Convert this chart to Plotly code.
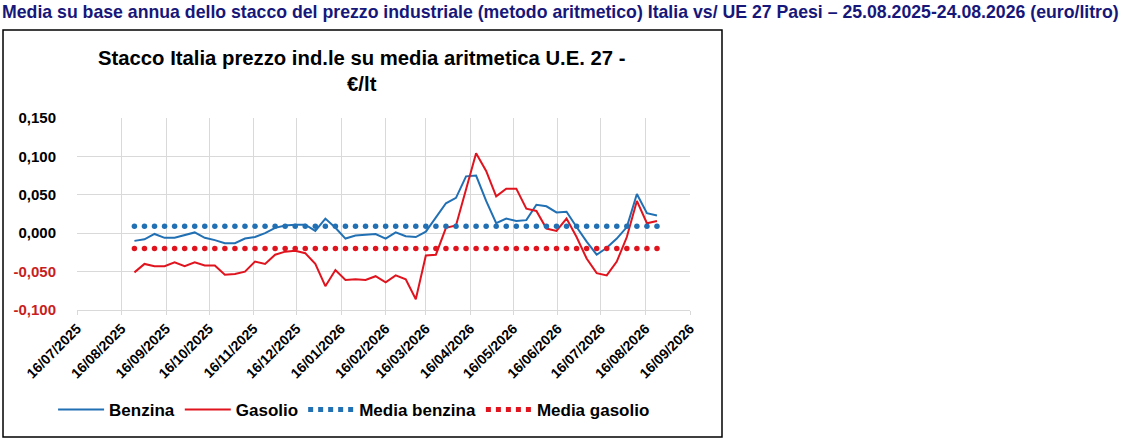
import pandas as pd
import plotly.graph_objects as go

# weekly observations 25/08/2025 - 24/08/2026
weeks = pd.date_range("2025-08-25", "2026-08-24", freq="7D")

benzina = [-0.010, -0.008, -0.001, -0.006, -0.006, -0.002, 0.001, -0.006, -0.009, -0.013,
           -0.013, -0.007, -0.005, 0.000, 0.007, 0.010, 0.011, 0.011, 0.003, 0.019,
           0.007, -0.007, -0.003, -0.002, -0.001, -0.007, 0.001, -0.004, -0.005, 0.002,
           0.021, 0.039, 0.046, 0.074, 0.075, 0.042, 0.013, 0.019, 0.016, 0.017,
           0.037, 0.035, 0.027, 0.028, 0.008, -0.011, -0.028, -0.019, -0.007, 0.008,
           0.051, 0.026, 0.023]
gasolio = [-0.051, -0.040, -0.043, -0.043, -0.038, -0.043, -0.038, -0.042, -0.042, -0.054,
           -0.053, -0.050, -0.037, -0.040, -0.028, -0.024, -0.023, -0.026, -0.040, -0.069,
           -0.048, -0.061, -0.060, -0.061, -0.056, -0.064, -0.055, -0.060, -0.086, -0.029,
           -0.028, 0.007, 0.010, 0.057, 0.104, 0.081, 0.048, 0.058, 0.058, 0.032,
           0.029, 0.006, 0.003, 0.019, -0.005, -0.033, -0.052, -0.055, -0.037, -0.005,
           0.042, 0.013, 0.016]
media_benzina = [0.009] * len(benzina)
media_gasolio = [-0.020] * len(gasolio)

x_ticks = pd.date_range("2025-07-01", "2026-09-01", freq="MS") + pd.Timedelta(days=15)
x_ticktext = [d.strftime("%d/%m/%Y") for d in x_ticks]
y_ticks = [-0.10, -0.05, 0.0, 0.05, 0.10, 0.15]

BLUE = "#2270B4"
RED = "#E0141E"
NEG = "#C81E1E"
FONT = "Liberation Sans, Arial, sans-serif"


def fmt(v):
    s = f"{v:.3f}".replace(".", ",")
    if v < 0:
        return f"<span style='color:{NEG}'>{s}</span>"
    return s


fig = go.Figure()
fig.add_trace(go.Scatter(x=weeks, y=benzina, name="Benzina", mode="lines",
                         line=dict(color=BLUE, width=2)))
fig.add_trace(go.Scatter(x=weeks, y=gasolio, name="Gasolio", mode="lines",
                         line=dict(color=RED, width=2)))
fig.add_trace(go.Scatter(x=weeks, y=media_benzina, name="Media benzina", mode="markers",
                         marker=dict(color=BLUE, size=5.5), showlegend=False,
                         legendgroup="mb"))
fig.add_trace(go.Scatter(x=weeks, y=media_gasolio, name="Media gasolio", mode="markers",
                         marker=dict(color=RED, size=5.5), showlegend=False,
                         legendgroup="mg"))
# legend samples for the dotted averages
fig.add_trace(go.Scatter(x=[None], y=[None], name="Media benzina", mode="lines",
                         line=dict(color=BLUE, width=5, dash="dot"), legendgroup="mb"))
fig.add_trace(go.Scatter(x=[None], y=[None], name="Media gasolio", mode="lines",
                         line=dict(color=RED, width=5, dash="dot"), legendgroup="mg"))

# outer chart frame
fig.add_shape(type="rect", xref="paper", yref="paper",
              x0=-0.1207, x1=1.0522, y0=-0.661, y1=1.458,
              line=dict(color="black", width=1.5), layer="below")

fig.add_annotation(xref="paper", yref="paper", x=-0.1256, y=1.552,
                   xanchor="left", yanchor="middle", showarrow=False,
                   text="<b>Media su base annua dello stacco del prezzo industriale (metodo aritmetico) "
                        "Italia vs/ UE 27 Paesi – 25.08.2025-24.08.2026 (euro/litro)</b>",
                   font=dict(family=FONT, size=17.7, color="#17177A"))
fig.add_annotation(xref="paper", yref="paper", x=0.465, y=1.245,
                   xanchor="center", yanchor="middle", showarrow=False,
                   text="<b>Stacco Italia prezzo ind.le su media aritmetica U.E. 27 -<br>€/lt</b>",
                   font=dict(family=FONT, size=20.3, color="black"))

fig.update_layout(
    width=1124, height=442,
    margin=dict(l=77, r=434, t=118, b=132),
    paper_bgcolor="white", plot_bgcolor="white",
    font=dict(family=FONT, color="black"),
    legend=dict(orientation="h", x=0.452, xanchor="center", y=-0.52, yanchor="middle",
                font=dict(size=17, weight="bold"), itemwidth=46,
                traceorder="normal"),
    xaxis=dict(type="date", range=["2025-07-16", "2026-09-16"],
               tickvals=list(x_ticks), ticktext=x_ticktext, tickangle=-45,
               tickfont=dict(size=14, weight="bold"),
               showgrid=True, gridcolor="#D9D9D9", gridwidth=1,
               showline=True, linecolor="#D9D9D9", ticks="outside", ticklen=4,
               tickcolor="#D9D9D9", zeroline=False),
    yaxis=dict(range=[-0.1, 0.15], tickvals=y_ticks, ticktext=[fmt(v) for v in y_ticks],
               tickfont=dict(size=15, weight="bold"), showgrid=True,
               gridcolor="#D9D9D9", gridwidth=1, zeroline=False, ticks="",
               ticklabelstandoff=20),
)

fig.write_html("out.html", config={"displayModeBar": False},
               post_script="document.body.style.margin='0px';")
